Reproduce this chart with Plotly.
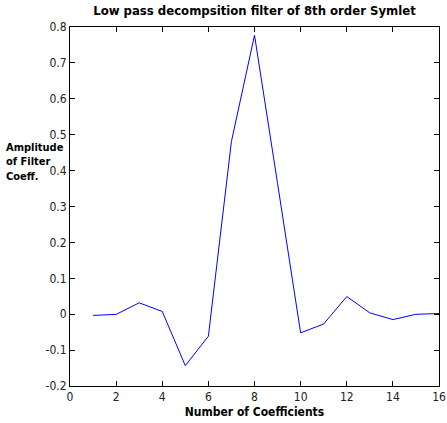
import plotly.graph_objects as go

coeff_index = list(range(1, 17))
coeff_values = [-0.0034, -0.0005, 0.0317, 0.0076, -0.1433, -0.0613, 0.4814, 0.7772,
                0.3644, -0.0519, -0.0272, 0.0491, 0.0038, -0.0150, -0.0003, 0.0019]
x_ticks = [0, 2, 4, 6, 8, 10, 12, 14, 16]
y_ticks = [-0.2, -0.1, 0, 0.1, 0.2, 0.3, 0.4, 0.5, 0.6, 0.7, 0.8]
y_ticktext = ["-0.2", "-0.1", "0", "0.1", "0.2", "0.3", "0.4", "0.5", "0.6", "0.7", "0.8"]

FONT = "Liberation Sans Narrow, Arial Narrow, DejaVu Sans Condensed, sans-serif"

fig = go.Figure()
fig.add_trace(go.Scatter(x=coeff_index, y=coeff_values, mode="lines",
                         line=dict(color="#0000ff", width=1), showlegend=False))

axis_common = dict(showline=True, linecolor="black", linewidth=1, mirror="ticks",
                   ticks="inside", ticklen=5, tickcolor="black", showgrid=False,
                   zeroline=False, ticklabeloverflow="allow", automargin=False,
                   tickfont=dict(family=FONT, size=12, color="#222"))

fig.update_layout(
    width=447, height=423,
    margin=dict(l=70, r=8, t=27, b=37),
    plot_bgcolor="white", paper_bgcolor="white",
    title=dict(text="<b>Low pass decompsition filter of 8th order Symlet</b>",
               x=0.5, xref="paper", xanchor="center", y=0.985, yanchor="top",
               font=dict(family=FONT, size=13, color="black")),
    xaxis=dict(range=[0, 16], tickvals=x_ticks, **axis_common,
               title=dict(text="<b>Number of Coefficients</b>", standoff=4,
                          font=dict(family=FONT, size=12, color="black"))),
    yaxis=dict(range=[-0.2, 0.8], tickvals=y_ticks, ticktext=y_ticktext, **axis_common),
    annotations=[dict(text="<b>Amplitude<br>of Filter<br>Coeff.</b>", xref="paper", yref="paper",
                      x=-0.18, y=0.688, xanchor="left", yanchor="top", showarrow=False,
                      align="left", font=dict(family=FONT, size=11, color="black"))],
)

fig.write_html("out.html")
